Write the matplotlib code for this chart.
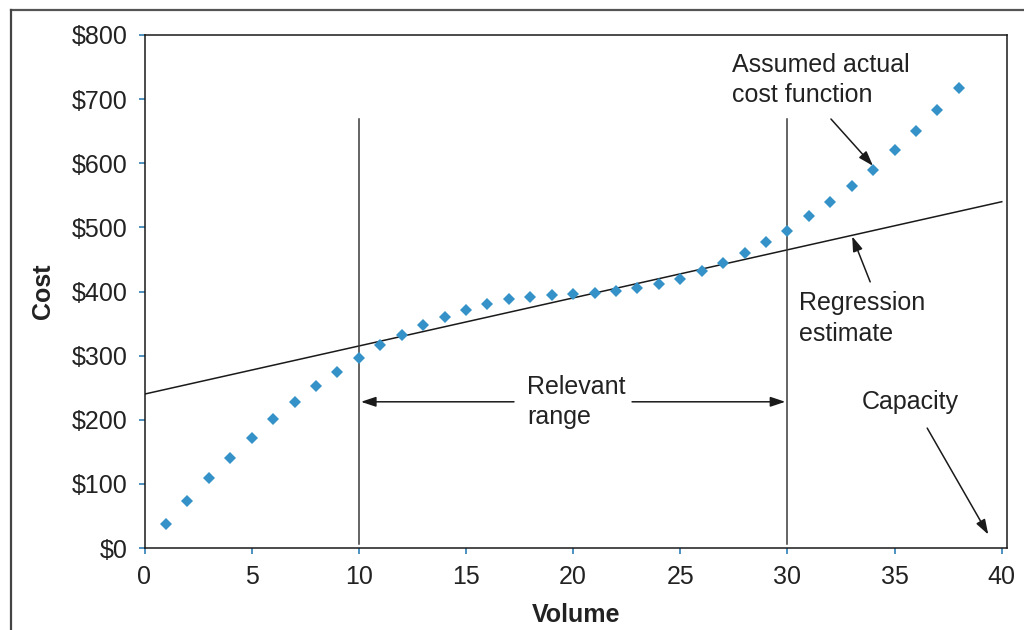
import matplotlib
matplotlib.use("Agg")
import matplotlib.pyplot as plt
from matplotlib.lines import Line2D

plt.rcParams["font.family"] = ["Liberation Sans", "DejaVu Sans"]

# Assumed actual cost at each volume level
volume = list(range(1, 39))
cost = [37, 74, 109, 141, 172, 201, 228, 253, 275, 296,
        316, 332, 347, 360, 371, 380, 388, 391, 394, 396,
        397, 401, 405, 412, 420, 432, 444, 460, 477, 495,
        517, 540, 564, 590, 620, 651, 683, 718]

# Linear regression estimate: intercept and slope
reg_intercept = 240
reg_slope = 7.5
reg_x = [0, 40]

# Relevant range boundaries and capacity
range_bounds = [10, 30]
capacity = 40

x_ticks = [0, 5, 10, 15, 20, 25, 30, 35, 40]
y_ticks = [0, 100, 200, 300, 400, 500, 600, 700, 800]
y_tick_labels = ["$" + str(v) for v in y_ticks]

fig = plt.figure(figsize=(10.24, 6.3), dpi=100)
ax = fig.add_axes([144.5 / 1024, 82 / 630, 862.2 / 1024, 513 / 630])

tick_blue = "#2f7fb5"
point_blue = "#3592c9"
ink = "#222222"

ax.plot(volume, cost, linestyle="none", marker="D", markersize=6,
        color=point_blue, markeredgewidth=0, zorder=3)

ax.plot(reg_x, [reg_intercept + reg_slope * v for v in reg_x],
        color="#1a1a1a", linewidth=1.1, zorder=2)

for b in range_bounds:
    ax.plot([b, b], [6, 669], color="#3a3a3a", linewidth=1.1, zorder=2)

ax.set_xlim(0, 40.23)
ax.set_ylim(0, 800)
ax.set_xticks(x_ticks)
ax.set_yticks(y_ticks)
ax.set_yticklabels(y_tick_labels)
ax.tick_params(axis="both", direction="out", length=4, width=1.2,
               color=tick_blue, labelsize=18, labelcolor=ink)
ax.tick_params(axis="y", pad=8)
ax.tick_params(axis="x", pad=8)
for s in ax.spines.values():
    s.set_color("#1a1a1a")
    s.set_linewidth(1.1)

ax.set_xlabel("Volume", fontsize=18, fontweight="bold", labelpad=10,
              color=ink)
ax.set_ylabel("Cost", fontsize=18, fontweight="bold", labelpad=12,
              color=ink)

text_kw = dict(fontsize=18, color=ink, ha="left", va="center",
               linespacing=1.33)
arrow_kw = dict(arrowstyle="-|>,head_length=0.9,head_width=0.3",
                color="#1a1a1a", linewidth=1.1, shrinkA=0, shrinkB=0)

# Relevant range label with double-sided arrows
ax.text(17.85, 228, "Relevant\nrange", **text_kw)
ax.annotate("", xy=(range_bounds[0] + 0.1, 228), xytext=(17.24, 228),
            arrowprops=arrow_kw)
ax.annotate("", xy=(range_bounds[1] - 0.1, 228), xytext=(22.75, 228),
            arrowprops=arrow_kw)

# Assumed actual cost function callout
ax.text(27.41, 730, "Assumed actual\ncost function", **text_kw)
ax.annotate("", xy=(33.99, 596), xytext=(32.03, 669), arrowprops=arrow_kw)

# Regression estimate callout
ax.text(30.54, 358, "Regression\nestimate", **text_kw)
ax.annotate("", xy=(33.02, 486), xytext=(33.86, 415), arrowprops=arrow_kw)

# Capacity callout
ax.text(33.48, 228, "Capacity", **text_kw)
ax.annotate("", xy=(39.37, 21), xytext=(36.52, 187), arrowprops=arrow_kw)

# Outer frame lines
fig.add_artist(Line2D([11 / 1024, 1.0], [1 - 10 / 630, 1 - 10 / 630],
                      color="#555555", linewidth=1.6,
                      transform=fig.transFigure))
fig.add_artist(Line2D([11 / 1024, 11 / 1024], [0.0, 1 - 10 / 630],
                      color="#444444", linewidth=1.6,
                      transform=fig.transFigure))

fig.savefig("out.png", dpi=100)
